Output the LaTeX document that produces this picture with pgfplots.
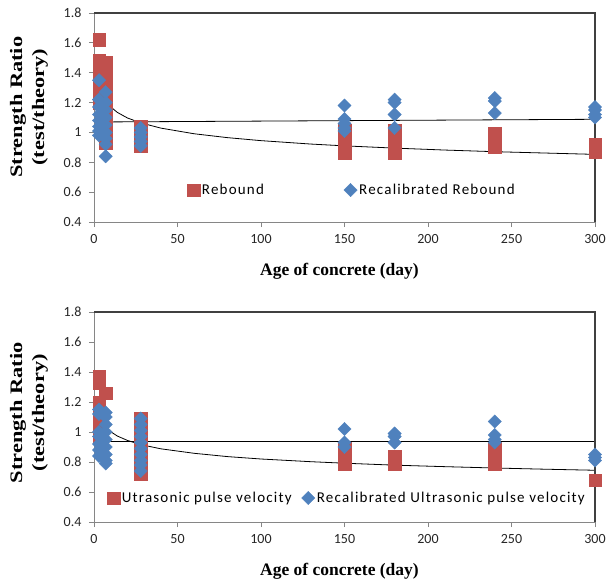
\documentclass[border=0pt]{standalone}
\usepackage{fontspec}
\usepackage{graphicx}
\usepackage{pgfplots}
\pgfplotsset{compat=1.18}
\setmainfont{Carlito}
\newfontfamily\tnr{Liberation Serif}
\newfontfamily\legfont{Carlito}[LetterSpace=8]
\definecolor{exred}{HTML}{C0504D}
\definecolor{exblue}{HTML}{4F81BD}
\definecolor{axgray}{HTML}{868686}

\pgfplotstableread{
x y
3 1.62
3 1.48
3 1.45
3 1.40
3 1.35
3 1.30
3 1.25
3 1.20
7 1.47
7 1.43
7 1.38
7 1.33
7 1.28
7 1.22
7 1.15
7 1.08
7 1.02
7 0.96
7 0.93
28 1.04
28 1.00
28 0.96
28 0.93
28 0.91
150 1.01
150 0.97
150 0.93
150 0.89
150 0.86
180 1.01
180 0.96
180 0.91
180 0.86
240 0.99
240 0.95
240 0.90
300 0.92
300 0.87
}\rebound

\pgfplotstableread{
x y
3 1.35
3 1.22
3 1.17
3 1.12
3 1.08
3 1.04
3 1.01
3 0.98
7 1.27
7 1.20
7 1.15
7 1.10
7 1.05
7 1.00
7 0.96
7 0.92
7 0.84
28 1.03
28 1.00
28 0.97
28 0.94
28 0.91
150 1.18
150 1.09
150 1.06
150 1.03
150 1.01
180 1.22
180 1.20
180 1.12
180 1.03
240 1.23
240 1.21
240 1.13
300 1.17
300 1.15
300 1.12
300 1.10
}\recrebound

\pgfplotstableread{
x y
3 1.37
3 1.33
3 1.20
3 1.16
3 1.12
3 1.05
3 1.00
3 0.97
7 1.26
28 1.09
28 1.05
28 1.00
28 0.95
28 0.90
28 0.85
28 0.80
28 0.76
28 0.72
150 0.89
150 0.85
150 0.82
150 0.79
180 0.84
180 0.81
180 0.79
240 0.89
240 0.86
240 0.83
240 0.79
300 0.68
}\upv

\pgfplotstableread{
x y
3 1.15
3 1.12
3 1.00
3 0.97
3 0.92
3 0.88
3 0.84
7 1.13
7 1.10
7 1.05
7 1.00
7 0.95
7 0.90
7 0.85
7 0.81
7 0.79
28 1.09
28 1.05
28 1.01
28 0.97
28 0.93
28 0.89
28 0.85
28 0.81
28 0.78
28 0.74
150 1.02
150 0.93
150 0.90
180 0.99
180 0.97
180 0.93
240 1.07
240 0.98
240 0.95
240 0.93
300 0.85
300 0.83
300 0.81
}\recupv

\pgfplotsset{
  mystyle/.style={
    scale only axis, width=501pt, height=209pt,
    xmin=0, xmax=300, ymin=0.4, ymax=1.8,
    xtick={0,50,100,150,200,250,300},
    ytick={0.4,0.6,0.8,1,1.2,1.4,1.6,1.8},
    axis x line*=bottom, axis y line*=left,
    axis line style={-, axgray, line width=1pt},
    tick style={axgray, line width=0.8pt},
    tick align=outside, major tick length=5pt,
    ticklabel style={font=\fontsize{14}{16}\selectfont, text=black!85},
    xticklabel style={yshift=-4pt},
    yticklabel style={xshift=-4pt, /pgf/number format/fixed, /pgf/number format/precision=1},
    /pgf/number format/assume math mode=true,
    clip=false,
    xlabel={Age of concrete (day)},
    xlabel style={font=\tnr\bfseries\fontsize{17.5}{21}\selectfont, at={(axis description cs:0.49,0)}, anchor=center, yshift=-49pt},
    ylabel={\scalebox{1.28}[1]{Strength Ratio}\\ \scalebox{1.28}[1]{(test/theory)}},
    legend style={draw=none, fill=none, font=\legfont\fontsize{15}{17}\selectfont, anchor=center},
    legend columns=2, legend cell align=left,
  },
  redsq/.style={only marks, mark=square*, mark size=6.3pt, mark options={fill=exred, draw=exred}},
  bluedia/.style={only marks, mark=square*, mark size=4.7pt, mark options={rotate=45, fill=exblue, draw=exblue}},
  trend/.style={black, line width=0.8pt, forget plot, no marks},
}

\begin{document}
\begin{tikzpicture}
\useasboundingbox (0,0) rectangle (609pt,587pt);

\begin{axis}[mystyle, at={(94pt,365pt)}, anchor=south west,
  ylabel style={font=\tnr\bfseries\fontsize{17.5}{22}\selectfont, at={(axis description cs:-0.13,0.55)}, anchor=center, align=center},
  legend style={at={(axis description cs:0.515,0.153)}, /tikz/every even column/.append style={column sep=78pt}}]
\addplot[redsq] table {\rebound};
\addlegendentry{Rebound}
\addplot[bluedia] table {\recrebound};
\addlegendentry{Recalibrated Rebound}
\addplot[trend] coordinates {(3,1.309) (4,1.275) (5,1.248) (7,1.210) (10,1.171) (14,1.134) (20,1.097) (28,1.064) (40,1.029) (60,0.991) (80,0.965) (100,0.945) (130,0.922) (150,0.910) (180,0.895) (210,0.882) (240,0.871) (270,0.862) (300,0.853)};
\addplot[trend] coordinates {(3,1.070) (300,1.088)};
\draw[black!75, line width=1.2pt] (rel axis cs:0,1) -- (rel axis cs:1,1) -- (rel axis cs:1,0);
\end{axis}

\begin{axis}[mystyle, at={(94pt,65pt)}, anchor=south west, height=210pt,
  ylabel style={font=\tnr\bfseries\fontsize{17.5}{22}\selectfont, at={(axis description cs:-0.13,0.52)}, anchor=center, align=center},
  legend style={at={(axis description cs:0.505,0.114)}, /tikz/every even column/.append style={column sep=8pt}}]
\addplot[redsq] table {\upv};
\addlegendentry{Utrasonic pulse velocity}
\addplot[bluedia] table {\recupv};
\addlegendentry{Recalibrated Ultrasonic pulse velocity}
\addplot[trend] coordinates {(3,1.113) (4,1.085) (5,1.065) (7,1.034) (10,1.002) (14,0.973) (20,0.944) (28,0.916) (40,0.888) (60,0.858) (80,0.836) (100,0.820) (130,0.802) (150,0.792) (180,0.779) (210,0.769) (240,0.760) (270,0.752) (300,0.745)};
\addplot[trend] coordinates {(3,0.935) (300,0.935)};
\draw[black!75, line width=1.2pt] (rel axis cs:0,1) -- (rel axis cs:1,1) -- (rel axis cs:1,0);
\end{axis}
\end{tikzpicture}
\end{document}
